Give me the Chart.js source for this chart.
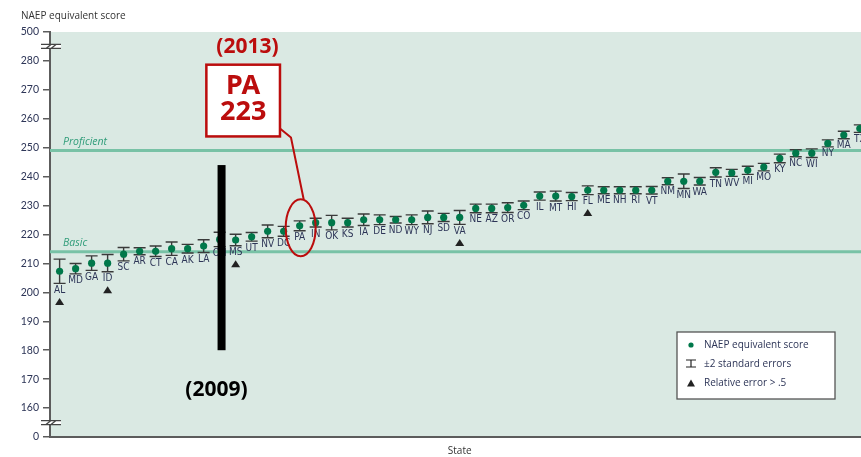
<!DOCTYPE html>
<html>
<head>
<meta charset="utf-8">
<script src="https://cdn.jsdelivr.net/npm/chart.js@4.4.1/dist/chart.umd.min.js"></script>
<style>
  html, body { margin: 0; padding: 0; background: #ffffff; overflow: hidden; }
  #wrap { width: 873px; height: 457px; }
</style>
</head>
<body>
<div id="wrap"><canvas id="naep-map" width="873" height="457"></canvas></div>
<script>
// States ordered by NAEP equivalent score
const states = [
  'AL', 'MD', 'GA', 'ID', 'SC', 'AR', 'CT', 'CA', 'AK', 'LA',
  'OH', 'MS', 'UT', 'NV', 'DC', 'PA', 'IN', 'OK', 'KS', 'IA',
  'DE', 'ND', 'WY', 'NJ', 'SD', 'VA', 'NE', 'AZ', 'OR', 'CO',
  'IL', 'MT', 'HI', 'FL', 'ME', 'NH', 'RI', 'VT', 'NM', 'MN',
  'WA', 'TN', 'WV', 'MI', 'MO', 'KY', 'NC', 'WI', 'NY', 'MA',
  'TX',
];
const scores = [
  207.3, 208.2, 210.1, 210.1, 213.2, 214.2, 214.2, 215.1, 215.1, 216.0,
  218.3, 218.1, 219.2, 221.1, 221.1, 223.0, 224.1, 224.1, 224.1, 225.1,
  225.1, 225.1, 225.1, 225.9, 225.9, 225.9, 229.0, 229.0, 229.3, 230.1,
  233.3, 233.3, 233.1, 235.3, 235.3, 235.3, 235.3, 235.3, 238.4, 238.4,
  238.4, 241.5, 241.3, 242.2, 243.3, 246.3, 248.1, 248.1, 251.5, 254.4,
  256.6,
];
// half-width of the +-2 standard error bar
const twoSE = [
  4.2, 1.8, 2.5, 3.0, 2.3, 1.2, 1.8, 2.3, 1.5, 2.2,
  2.5, 2.0, 1.5, 2.2, 1.7, 1.7, 1.5, 2.5, 1.5, 2.0,
  1.7, 1.1, 1.7, 2.2, 1.4, 2.4, 1.5, 1.5, 1.7, 1.5,
  1.4, 1.7, 1.4, 1.5, 1.2, 1.2, 1.2, 1.3, 1.2, 2.5,
  1.3, 1.6, 1.2, 1.4, 1.3, 1.5, 1.2, 1.5, 1.2, 1.3,
  1.3,
];
// relative error > .5
const flagged = ['AL', 'ID', 'MS', 'VA', 'FL'];

// achievement level cut scores
const levels = [
  { name: 'Proficient', score: 249 },
  { name: 'Basic', score: 214 },
];

// axis runs 150..290 on screen, ends relabelled around the breaks
const yTickValues = [150, 160, 170, 180, 190, 200, 210, 220, 230, 240, 250, 260, 270, 280, 290];
const yTickLabels = ['0', '160', '170', '180', '190', '200', '210', '220', '230', '240', '250', '260', '270', '280', '500'];
const axisBreaks = [285, 155];

// callouts
const highlight = { state: 'PA', year: '(2013)' };
const marker2009 = { x: 10.12, from: 180, to: 244, label: '(2009)' };

const colors = {
  plotBg: '#dae9e3',
  point: '#00784a',
  whisker: '#3a3a3a',
  axis: '#5c5c5c',
  level: '#78c2a6',
  levelText: '#2f9c79',
  text: '#2d3557',
  red: '#bb0d0d',
};

const ctx = document.getElementById('naep-map');

function drawTriangle(c, x, y, w, h) {
  c.beginPath();
  c.moveTo(x, y - h / 2);
  c.lineTo(x + w / 2, y + h / 2);
  c.lineTo(x - w / 2, y + h / 2);
  c.closePath();
  c.fill();
}

const naepPlugin = {
  id: 'naepDecor',
  beforeDraw(chart) {
    const { ctx: c, chartArea: a } = chart;
    c.save();
    c.fillStyle = colors.plotBg;
    c.fillRect(a.left, a.top, a.right - a.left, a.bottom - a.top);
    c.restore();
  },
  beforeDatasetsDraw(chart) {
    const { ctx: c, chartArea: a, scales: { x, y } } = chart;
    c.save();
    // cut score lines
    levels.forEach((lv) => {
      const py = y.getPixelForValue(lv.score);
      c.strokeStyle = colors.level;
      c.lineWidth = 3;
      c.beginPath();
      c.moveTo(a.left, py);
      c.lineTo(a.right, py);
      c.stroke();
      c.fillStyle = colors.levelText;
      c.font = 'italic 10.5px "Open Sans", sans-serif';
      c.textBaseline = 'alphabetic';
      c.textAlign = 'left';
      c.fillText(lv.name, a.left + 13, py - 6);
    });
    // error bars
    c.strokeStyle = colors.whisker;
    c.lineWidth = 1.4;
    states.forEach((s, i) => {
      const px = x.getPixelForValue(i);
      const top = y.getPixelForValue(scores[i] + twoSE[i]);
      const bot = y.getPixelForValue(scores[i] - twoSE[i]);
      c.beginPath();
      c.moveTo(px, top); c.lineTo(px, bot);
      c.moveTo(px - 6, top); c.lineTo(px + 6, top);
      c.moveTo(px - 6, bot); c.lineTo(px + 6, bot);
      c.stroke();
    });
    c.restore();
  },
  afterDatasetsDraw(chart) {
    const { ctx: c, chartArea: a, scales: { x, y } } = chart;
    c.save();
    // state labels and flags
    c.font = '10px "Liberation Sans Narrow", "DejaVu Sans Condensed", sans-serif';
    c.textAlign = 'center';
    c.textBaseline = 'middle';
    states.forEach((s, i) => {
      const px = x.getPixelForValue(i);
      const bot = y.getPixelForValue(scores[i] - twoSE[i]);
      c.fillStyle = colors.text;
      c.fillText(s, px, bot + 7);
      if (flagged.includes(s)) {
        c.fillStyle = '#222';
        drawTriangle(c, px, bot + 18, 9, 7);
      }
    });

    // axis breaks
    axisBreaks.forEach((v) => {
      const py = y.getPixelForValue(v);
      const l = a.left - 9, r = a.left + 11;
      c.fillStyle = '#ffffff';
      c.fillRect(l, py - 2, r - l, 4);
      c.strokeStyle = '#444';
      c.lineWidth = 1.3;
      c.beginPath();
      c.moveTo(l, py - 2); c.lineTo(r, py - 2);
      c.moveTo(l, py + 2); c.lineTo(r, py + 2);
      c.moveTo(l + 5, py + 2); c.lineTo(l + 10, py - 2);
      c.moveTo(l + 10, py + 2); c.lineTo(l + 15, py - 2);
      c.stroke();
    });

    // 2009 marker bar
    const bx = x.getPixelForValue(marker2009.x);
    const bTop = y.getPixelForValue(marker2009.to);
    const bBot = y.getPixelForValue(marker2009.from);
    c.fillStyle = '#000';
    c.fillRect(bx - 4, bTop, 8, bBot - bTop);
    c.font = 'bold 21px "Noto Sans", sans-serif';
    c.textAlign = 'center';
    c.textBaseline = 'middle';
    c.fillText(marker2009.label, x.getPixelForValue(9.8), y.getPixelForValue(166.4));

    // highlighted state callout
    const hi = states.indexOf(highlight.state);
    const hx = x.getPixelForValue(hi);
    const hy = y.getPixelForValue(scores[hi]);
    c.strokeStyle = colors.red;
    c.lineWidth = 2;
    c.beginPath();
    c.ellipse(hx + 1, hy + 2, 15, 28.5, 0, 0, Math.PI * 2);
    c.stroke();

    const boxL = x.getPixelForValue(9.17), boxR = x.getPixelForValue(13.77);
    const boxT = y.getPixelForValue(278.7), boxB = y.getPixelForValue(253.9);
    c.beginPath();
    c.moveTo(boxR, boxB - 8);
    c.lineTo(boxR + 11, boxB + 1);
    c.lineTo(hx + 4, hy - 26.5);
    c.stroke();

    c.fillStyle = '#ffffff';
    c.fillRect(boxL, boxT, boxR - boxL, boxB - boxT);
    c.lineWidth = 2.5;
    c.strokeRect(boxL, boxT, boxR - boxL, boxB - boxT);
    c.fillStyle = colors.red;
    c.font = 'bold 27px "Noto Sans", sans-serif';
    const boxC = (boxL + boxR) / 2;
    c.fillText(highlight.state, boxC, boxT + 22);
    c.fillText(String(Math.round(scores[hi])), boxC, boxT + 48);
    c.font = 'bold 21px "Noto Sans", sans-serif';
    c.fillText(highlight.year, x.getPixelForValue(11.74), y.getPixelForValue(284.8));

    // key
    const lx = a.left + 627, ly = a.bottom - 105;
    c.fillStyle = '#ffffff';
    c.fillRect(lx, ly, 158, 67);
    c.strokeStyle = '#555';
    c.lineWidth = 1.3;
    c.strokeRect(lx, ly, 158, 67);
    c.font = '10px "Open Sans", sans-serif';
    c.textAlign = 'left';
    c.textBaseline = 'middle';
    const ix = lx + 14, tx = lx + 27;
    c.fillStyle = colors.point;
    c.beginPath();
    c.arc(ix, ly + 13, 2.6, 0, Math.PI * 2);
    c.fill();
    c.strokeStyle = '#222';
    c.lineWidth = 1.2;
    c.beginPath();
    c.moveTo(ix - 5, ly + 28); c.lineTo(ix + 5, ly + 28);
    c.moveTo(ix, ly + 28); c.lineTo(ix, ly + 35);
    c.moveTo(ix - 5, ly + 35); c.lineTo(ix + 5, ly + 35);
    c.stroke();
    c.fillStyle = '#222';
    drawTriangle(c, ix, ly + 51, 8, 7);
    c.fillStyle = colors.text;
    c.fillText('NAEP equivalent score', tx, ly + 13);
    c.fillText('\u00b12 standard errors', tx, ly + 32);
    c.fillText('Relative error > .5', tx, ly + 51);

    // axis heading
    c.fillStyle = '#333';
    c.font = '10px "Open Sans", sans-serif';
    c.fillText('NAEP equivalent score', 21, 16);
    c.restore();
  },
};

const chart = new Chart(ctx, {
  type: 'scatter',
  data: {
    datasets: [{
      label: 'NAEP equivalent score',
      data: states.map((s, i) => ({ x: i, y: scores[i] })),
      backgroundColor: colors.point,
      borderColor: colors.point,
      pointRadius: 3.6,
      pointHoverRadius: 3.6,
      borderWidth: 0,
    }],
  },
  options: {
    responsive: false,
    animation: false,
    layout: {
      padding: { top: 32, right: 0, bottom: 0, left: 0 },
    },
    scales: {
      x: {
        type: 'linear',
        min: -0.6,
        max: 50.6,
        ticks: { display: false },
        grid: { display: false },
        border: { color: colors.axis, width: 2 },
        title: {
          display: true,
          text: 'State',
          color: '#333',
          font: { family: '"Open Sans", sans-serif', size: 10 },
          padding: { top: 4, bottom: 0 },
        },
        afterFit(scale) { scale.height = 20; },
      },
      y: {
        min: yTickValues[0],
        max: yTickValues[yTickValues.length - 1],
        afterBuildTicks(scale) {
          scale.ticks = yTickValues.map((v) => ({ value: v }));
        },
        ticks: {
          callback: (value) => yTickLabels[yTickValues.indexOf(value)],
          color: colors.text,
          font: { family: 'Lato, sans-serif', size: 10.5 },
          padding: 4,
        },
        grid: {
          drawOnChartArea: false,
          drawTicks: true,
          tickLength: 7,
          color: colors.axis,
          lineWidth: 1.5,
        },
        border: { color: colors.axis, width: 2 },
        afterFit(scale) { scale.width = 50; },
      },
    },
    plugins: {
      legend: { display: false },
      tooltip: { enabled: false },
    },
  },
  plugins: [naepPlugin],
});
</script>
</body>
</html>
